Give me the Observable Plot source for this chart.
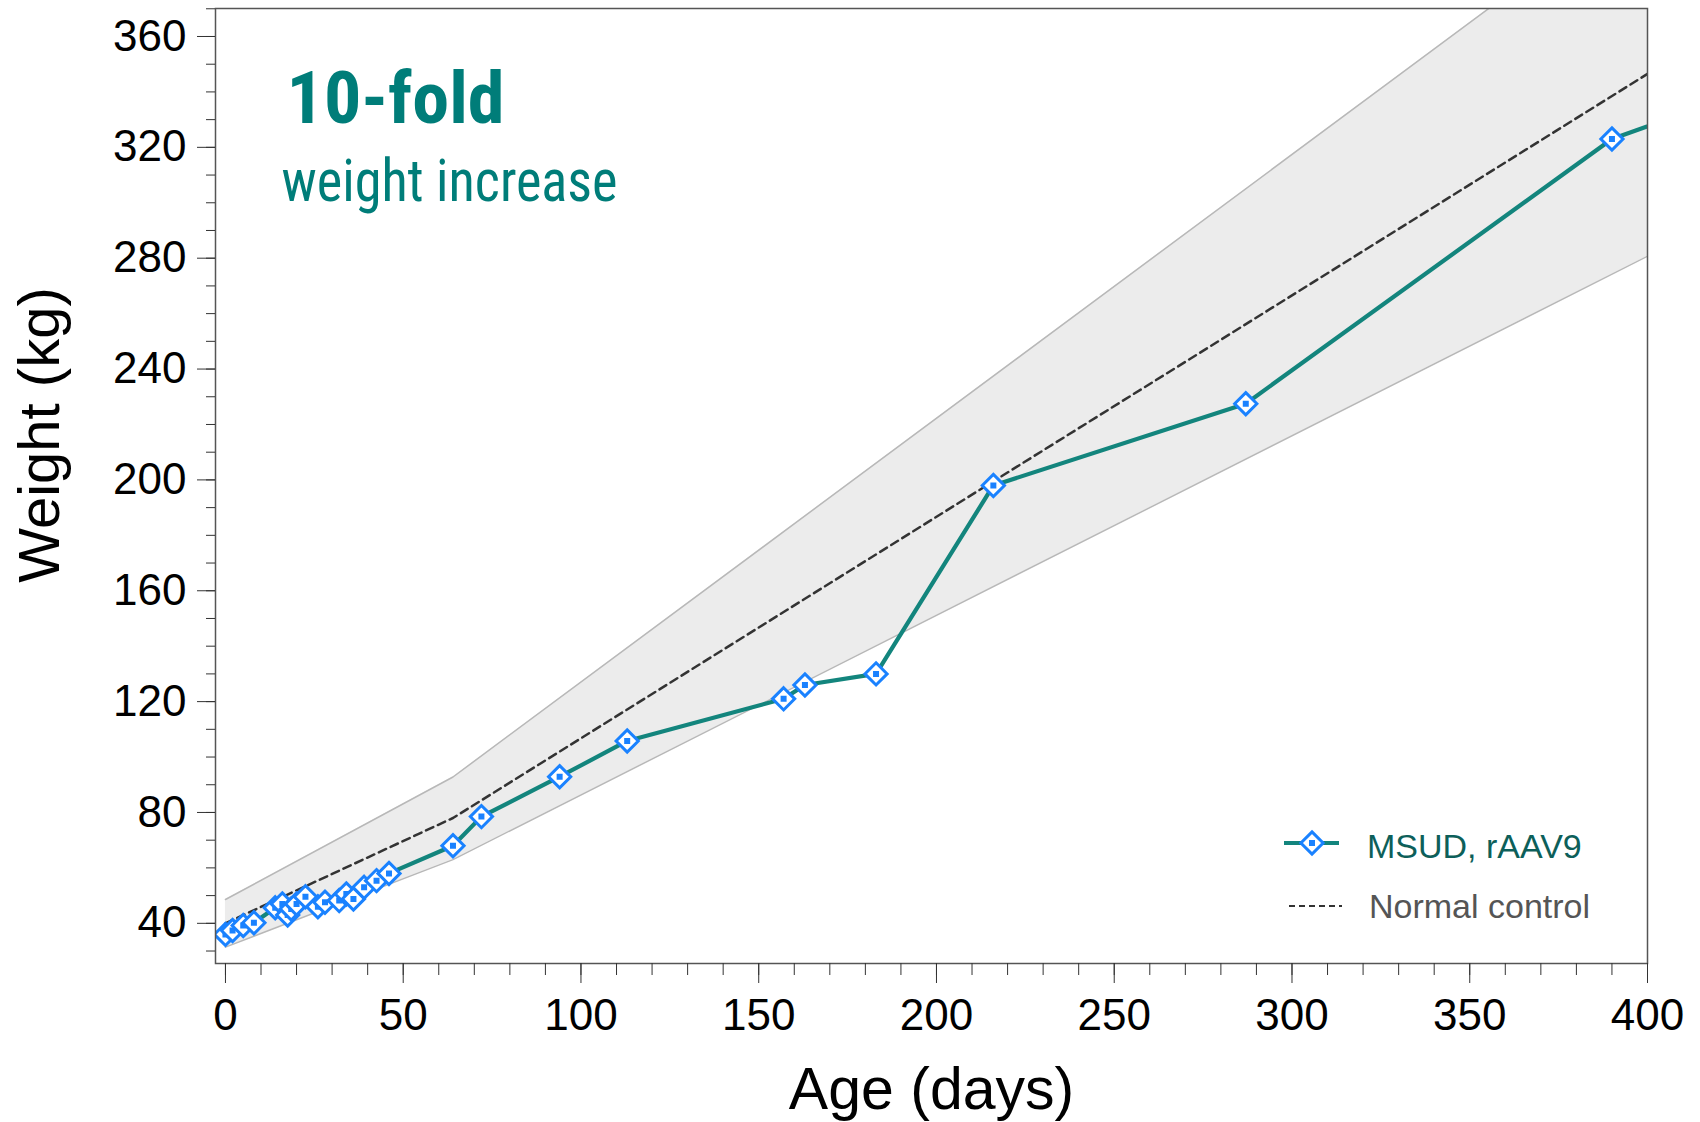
<!DOCTYPE html>
<html><head><meta charset="utf-8">
<script src="https://cdn.jsdelivr.net/npm/d3@7"></script>
<script src="https://cdn.jsdelivr.net/npm/@observablehq/plot@0.6"></script>
<style>
body{margin:0;background:#fff;}
#wrap{position:relative;width:1700px;height:1122px;}
#legend{position:absolute;left:0;top:0;pointer-events:none;}
</style></head><body><div id="wrap"></div>
<script>
// MSUD, rAAV9 animal weights
const ageDays = [0, 2, 5, 8, 14, 16, 17.5, 18.5, 20, 22.5, 26, 28, 32, 34, 36, 39, 42.5, 46,
  64, 72, 94, 113, 157, 163, 183, 216, 287, 390, 420];
const weightKg = [36, 37.4, 39.2, 40.2, 45.6, 47, 43, 45.2, 47, 49.6, 46, 47.6, 48.2, 50.6, 48.8, 53, 55.4, 58,
  68, 78.5, 92.9, 105.8, 121, 126, 130, 198, 227.5, 323, 336.8];
// Normal control mean and range
const normalDays = [0, 64, 400];
const normalMean = [40, 78, 346.5];
const normalLower = [31.4, 63, 280.7];
const normalUpper = [48.6, 92.8, 412.6];
// axes
const xTicks = [0, 50, 100, 150, 200, 250, 300, 350, 400];
const yTicks = [40, 80, 120, 160, 200, 240, 280, 320, 360];
const xLabel = "Age (days)";
const yLabel = "Weight (kg)";
const titleText = "10-fold";
const subtitleText = "weight increase";
const seriesNames = ["MSUD, rAAV9", "Normal control"];

const msud = ageDays.map((d, i) => ({day: d, weight: weightKg[i]}));
const normal = normalDays.map((d, i) => ({day: d, mean: normalMean[i], lower: normalLower[i], upper: normalUpper[i]}));

const teal = "#13857d", blue = "#1a82ff", titleTeal = "#007d79";
const condensed = "'Liberation Sans Narrow','Roboto Condensed','DejaVu Sans Condensed',sans-serif";

const markerSymbol = {
  draw(context, size) {
    const r = Math.sqrt(size) * 0.62625;
    context.moveTo(0, -r); context.lineTo(r, 0); context.lineTo(0, r); context.lineTo(-r, 0); context.closePath();
    context.moveTo(-1.5, -1.5); context.lineTo(1.5, -1.5); context.lineTo(1.5, 1.5); context.lineTo(-1.5, 1.5); context.closePath();
  }
};

const chart = Plot.plot({
  width: 1700, height: 1122,
  marginLeft: 215, marginRight: 53, marginTop: 8, marginBottom: 159,
  style: {fontFamily: "'Liberation Sans', Arial, sans-serif", background: "#fff", color: "#000"},
  x: {domain: [-2.8, 400]},
  y: {domain: [25.5, 370.1]},
  marks: [
    Plot.areaY(normal, {x: "day", y1: "lower", y2: "upper", fill: "#ececec", clip: true}),
    Plot.line(normal, {x: "day", y: "lower", stroke: "#b8b8b8", strokeWidth: 1.5, clip: true}),
    Plot.line(normal, {x: "day", y: "upper", stroke: "#b8b8b8", strokeWidth: 1.5, clip: true}),
    Plot.line(normal, {x: "day", y: "mean", stroke: "#333", strokeWidth: 2.5, strokeDasharray: "8,5", clip: true}),
    Plot.line(msud, {x: "day", y: "weight", stroke: teal, strokeWidth: 4.2, clip: true}),
    Plot.dot(msud, {x: "day", y: "weight", symbol: markerSymbol, r: 10, stroke: blue, strokeWidth: 3, fill: "white", clip: true}),
    Plot.frame({stroke: "#555", strokeWidth: 1.5}),
    Plot.axisY(d3.range(30, 371, 10), {tickSize: 9, text: null, label: null, stroke: "#333"}),
    Plot.axisY(yTicks, {tickSize: 18, tickPadding: 11, fontSize: 44, label: null, stroke: "#333", fill: "#000"}),
    Plot.axisX(d3.range(0, 401, 10), {tickSize: 12, text: null, label: null, stroke: "#333"}),
    Plot.axisX(xTicks, {tickSize: 20, tickPadding: 15, fontSize: 44, label: null, stroke: "#333", fill: "#000"}),
    Plot.text([xLabel], {frameAnchor: "bottom", dy: 104, lineAnchor: "top", fontSize: 59, fill: "#000"}),
    Plot.text([yLabel], {frameAnchor: "left", rotate: -90, textAnchor: "middle", lineAnchor: "middle",
      dx: -175, dy: -51, fontSize: 58, fill: "#000"}),
    Plot.text([titleText], {frameAnchor: "top-left", textAnchor: "start", lineAnchor: "top", dx: 71, dy: 63,
      fontSize: 72, fontWeight: "bold", fontFamily: condensed, fill: titleTeal, className: "title-main"}),
    Plot.text([subtitleText], {frameAnchor: "top-left", textAnchor: "start", lineAnchor: "top", dx: 66, dy: 151,
      fontSize: 59, fontFamily: condensed, fill: titleTeal, className: "title-sub"})
  ]
});
const wrap = document.getElementById("wrap");
wrap.appendChild(chart);

// fit the condensed headline widths
const fit = (cls, w) => {
  d3.select(chart).selectAll(`.${cls} text`).attr("textLength", w).attr("lengthAdjust", "spacingAndGlyphs");
};
fit("title-main", 218);
fit("title-sub", 336);

// legend overlay
const ns = "http://www.w3.org/2000/svg";
const lg = document.createElementNS(ns, "svg");
lg.setAttribute("id", "legend");
lg.setAttribute("width", 1700); lg.setAttribute("height", 1122);
lg.style.fontFamily = "'Liberation Sans', Arial, sans-serif";
const dPath = d3.path(); markerSymbol.draw(dPath, Math.PI * 100);
lg.innerHTML = `
  <line x1="1284" x2="1339" y1="843" y2="843" stroke="${teal}" stroke-width="4"/>
  <path transform="translate(1312,843)" d="${dPath.toString()}" fill="white" stroke="${blue}" stroke-width="3"/>
  <text x="1367" y="858" font-size="34" fill="#0d5f5a">${seriesNames[0]}</text>
  <line x1="1289" x2="1342" y1="906" y2="906" stroke="#333" stroke-width="2" stroke-dasharray="6,4"/>
  <text x="1369" y="918" font-size="34" fill="#555">${seriesNames[1]}</text>`;
wrap.appendChild(lg);
</script></body></html>
